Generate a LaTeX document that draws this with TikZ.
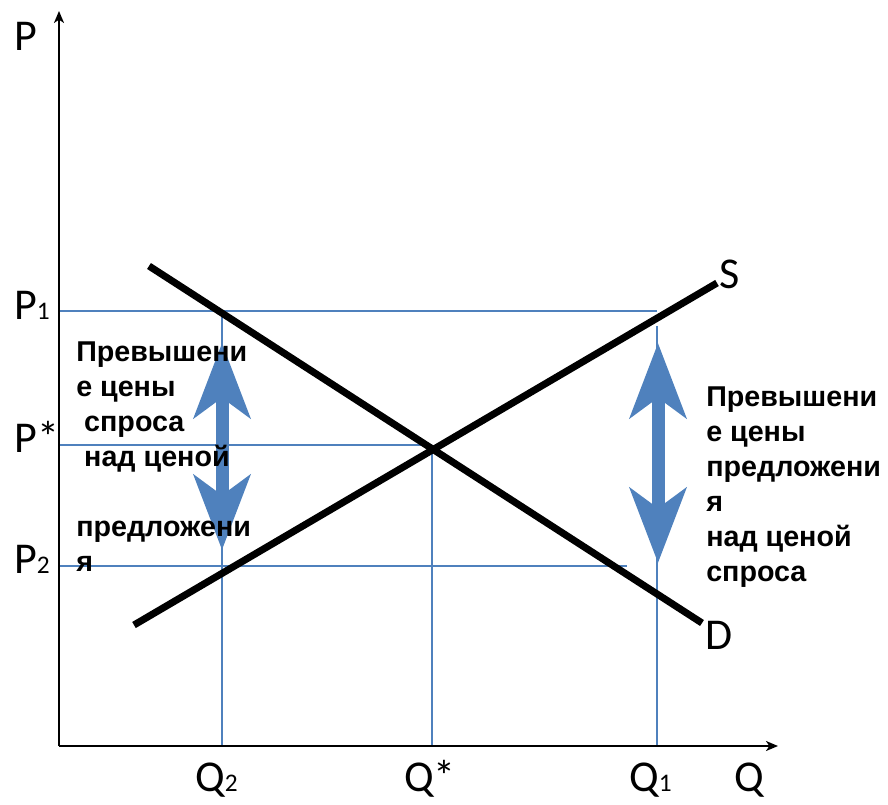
\documentclass[tikz,border=0pt]{standalone}
\usepackage{fontspec}
\setmainfont{Carlito}
\newfontfamily\rufont{Liberation Sans}
\usepackage{xcolor}
\usepackage{tikz}
\usetikzlibrary{arrows.meta,positioning}
\definecolor{guide}{HTML}{4F81BD}
\newcommand{\sbs}[1]{{\fontsize{19}{19}\selectfont #1}}

\begin{document}
\begin{tikzpicture}[x=0.75pt,y=-0.75pt,
  axis/.style={line width=1.5pt, -{Stealth[length=9pt,width=7.5pt,inset=2.5pt]}},
  guideline/.style={draw=guide, line width=1.1pt},
  curve/.style={line width=5.3pt},
  lab/.style={inner sep=0pt, anchor=base west, font=\fontsize{33}{33}\selectfont},
  note/.style={inner sep=0pt, anchor=north west, align=left, font=\rufont\bfseries\fontsize{21.5}{26.25}\selectfont},
  dbl/.style={draw=guide, line width=9.75pt,
    {Stealth[length=56pt,width=42pt,inset=15pt]}-{Stealth[length=56pt,width=42pt,inset=15pt]}}
]
\useasboundingbox (0,0) rectangle (888,804);
% axes
\coordinate (O) at (59,746);
\coordinate (ytip) at (59,11);
\coordinate (xtip) at (778,746);
% guide points
\coordinate (p1) at (59,311);
\coordinate (ps) at (59,445);
\coordinate (p2) at (59,566);
\coordinate (q2) at (222,746);
\coordinate (qs) at (432,746);
\coordinate (q1) at (657,746);
\coordinate (a) at (222,311);
\coordinate (e) at (432,445);
\coordinate (b) at (657,311);
\coordinate (c) at (627,566);
\coordinate (b1) at (657,326);
% curve ends
\coordinate (s0) at (134,625);
\coordinate (s1) at (717,283);
\coordinate (d0) at (149,266);
\coordinate (d1) at (702,623);
% arrow ends
\coordinate (la) at (222,343);
\coordinate (lb) at (222,550);
\coordinate (ra) at (658,343);
\coordinate (rb) at (658,563);

\draw[guideline] (p1) -- (b);
\draw[guideline] (a) -- (q2);
\draw[guideline] (ps) -- (e);
\draw[guideline] (e) -- (qs);
\draw[guideline] (p2) -- (c);
\draw[guideline] (b1) -- (q1);

\draw[axis] (O) -- (ytip);
\draw[axis] (O) -- (xtip);

\draw[curve] (s0) -- (s1);
\draw[curve] (d0) -- (d1);

\draw[dbl] (la) -- (lb);
\draw[dbl] (ra) -- (rb);

\node[lab] (plab) at (14,50) {P};
\node[lab] (ponelab) at (14,319) {P\sbs{1}};
\node[lab] (pstarlab) at (14,452) {P*};
\node[lab] (ptwolab) at (14,573) {P\sbs{2}};
\node[lab] (qtwolab) at (195,791) {Q\sbs{2}};
\node[lab] (qstarlab) at (404,791) {Q*};
\node[lab] (qonelab) at (629,791) {Q\sbs{1}};
\node[lab] (qlab) at (734,791) {Q};
\node[lab] (slab) at (719,288) {S};
\node[lab] (dlab) at (705,649) {D};

\node[note] (lnote) at (76,341) {Превышени\\е цены\\\ спроса\\\ над ценой\\\mbox{}\\предложени\\я};
\node[note] (rnote) at (706,386) {Превышени\\е цены\\предложени\\я\\над ценой\\спроса};
\end{tikzpicture}
\end{document}
